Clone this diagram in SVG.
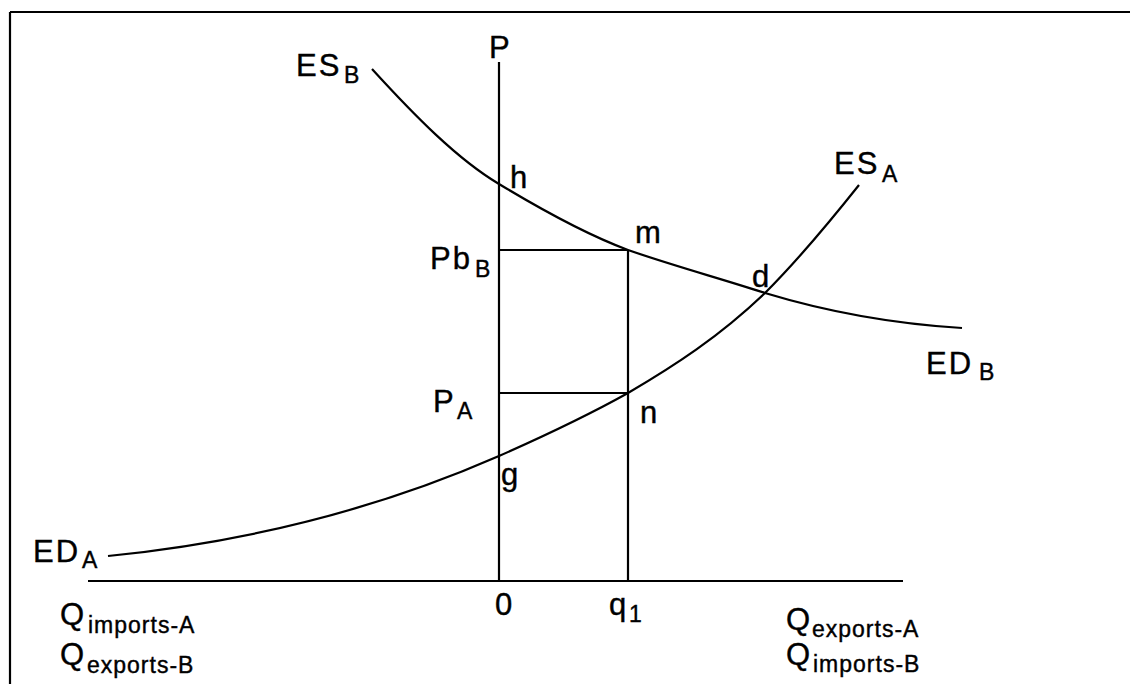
<svg xmlns="http://www.w3.org/2000/svg" width="1130" height="684" viewBox="0 0 1130 684">
<style>
.ln{fill:none;stroke:#000;stroke-width:2.2;stroke-linecap:butt}
.t{font-family:"Liberation Sans",Arial,sans-serif;font-size:31px;fill:#000;stroke:#000;stroke-width:0.4;letter-spacing:2px}
.s{font-size:23px;letter-spacing:1px}
</style>
<rect width="1130" height="684" fill="#fff"/>
<g id="frame">
<path class="ln" d="M10,12 H1130 M10,12 V684"/>
</g>
<g id="axes">
<path class="ln" d="M499,62 V581 M88,581 H903"/>
</g>
<g id="connectors">
<path class="ln" d="M499,250 H628 M499,393 H628 M628,250 V581"/>
<path id="curve-B" class="ln" d="M372,69 C414,115 457,159 499,184 C542,210 585,234 628,250 C674,266 719,278 765,293 C831,313 896,324 962,328"/>
<path id="curve-A" class="ln" d="M108,556 C238,543 369,513 499,456 C542,437 585,417 628,393 C674,366 719,337 765,293 C796,262 828,224 859,185"/>
</g>
<g id="labels">
<text id="ESB" class="t" x="296" y="76">ES<tspan class="s" x="344" y="83">B</tspan></text>
<text id="Paxis" class="t" x="489" y="58">P</text>
<text id="h" class="t" x="510" y="188">h</text>
<text id="m" class="t" x="635" y="243">m</text>
<text id="ESA" class="t" x="834" y="174">ES<tspan class="s" x="882" y="182">A</tspan></text>
<text id="PbB" class="t" x="430" y="269">Pb<tspan class="s" x="475" y="277">B</tspan></text>
<text id="d" class="t" x="752" y="287">d</text>
<text id="EDB" class="t" x="926" y="374">ED<tspan class="s" x="979" y="380">B</tspan></text>
<text id="PA" class="t" x="433" y="412">P<tspan class="s" x="457" y="419">A</tspan></text>
<text id="n" class="t" x="640" y="423">n</text>
<text id="g" class="t" x="501" y="485">g</text>
<text id="EDA" class="t" x="33" y="562">ED<tspan class="s" x="82" y="568">A</tspan></text>
<text id="zero" class="t" x="495" y="615">0</text>
<text id="q1" class="t" x="609" y="615">q<tspan class="s" x="629" y="622">1</tspan></text>
<text id="QimpA" class="t" x="60" y="625">Q<tspan class="s" x="88" y="633">imports-A</tspan></text>
<text id="QexpB" class="t" x="60" y="665">Q<tspan class="s" x="87" y="673">exports-B</tspan></text>
<text id="QexpA" class="t" x="786" y="630">Q<tspan class="s" x="812" y="637">exports-A</tspan></text>
<text id="QimpB" class="t" x="786" y="665">Q<tspan class="s" x="813" y="672">imports-B</tspan></text>
</g>
</svg>
